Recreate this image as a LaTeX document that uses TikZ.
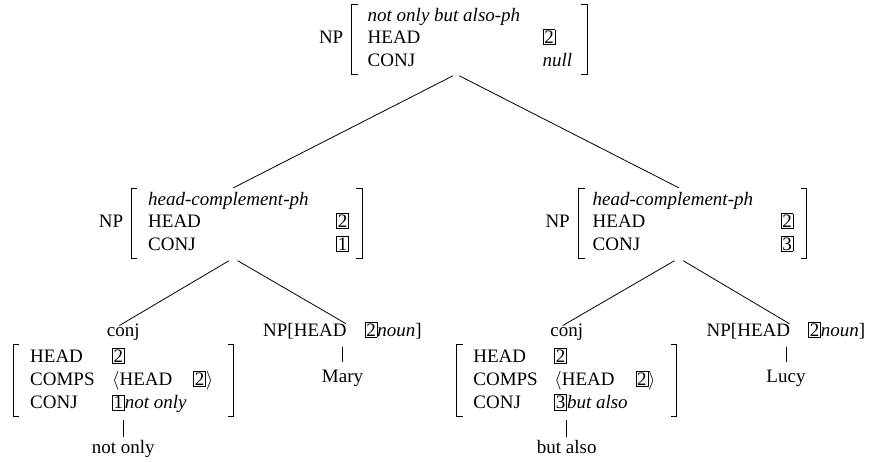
\documentclass[tikz,border=0pt]{standalone}
\usepackage{fix-cm}
\usepackage{fontspec}
\setmainfont{Liberation Serif}
\usetikzlibrary{fit}
\newcommand{\tg}[1]{{\setlength{\fboxsep}{0.9pt}\setlength{\fboxrule}{0.65pt}\fbox{#1}}}
\newcommand{\fsa}{\fontsize{19}{22.5}\selectfont}
\newcommand{\fsb}{\fontsize{19}{23.3}\selectfont}
\newcommand{\avmtab}[3]{\begin{tabular}[t]{@{\hspace{#1}}l@{}l@{\hspace{#2}}}#3\end{tabular}}
\newcommand{\brk}[1]{%
  \draw[br] ([xshift=6pt]#1.north west) -- (#1.north west) -- (#1.south west) -- ([xshift=6pt]#1.south west);
  \draw[br] ([xshift=-6pt]#1.north east) -- (#1.north east) -- (#1.south east) -- ([xshift=-6pt]#1.south east);}
\begin{document}
\begin{tikzpicture}[x=1pt,y=-1pt,
  lbl/.style={font=\fsa, inner sep=0pt},
  avmn/.style={font=\fsa, inner xsep=0pt, inner ysep=1pt, anchor=base west},
  avmb/.style={font=\fsb, inner xsep=0pt, inner ysep=1pt, anchor=base west},
  word/.style={font=\fsa, inner sep=0pt},
  br/.style={line width=0.9pt},
  edge/.style={line width=0.8pt}]
\useasboundingbox (0,0) rectangle (871,461);

% top
\node[avmn] (avm0) at (351.5,21) {\avmtab{16pt}{15pt}{%
  \multicolumn{2}{@{\hspace{16pt}}l@{}}{\textit{not only but also-ph}}\\
  \makebox[175pt][l]{HEAD} & \tg{2}\\
  \makebox[175pt][l]{CONJ} & \textit{null}}};
\node[lbl, anchor=base east] (np0) at (343.5,43.5) {NP};
\brk{avm0}
\coordinate (e0) at ([xshift=6pt]avm0.east);
\node[fit=(np0)(avm0)(e0), inner sep=0pt] (T0) {};

% middle left
\node[avmn] (avm1) at (131,205) {\avmtab{17pt}{13pt}{%
  \multicolumn{2}{@{\hspace{17pt}}l@{}}{\textit{head-complement-ph}}\\
  \makebox[188pt][l]{HEAD} & \tg{2}\\
  \makebox[188pt][l]{CONJ} & \tg{1}}};
\node[lbl, anchor=base east] (np1) at (123.3,227.5) {NP};
\brk{avm1}
\coordinate (e1) at ([xshift=6pt]avm1.east);
\node[fit=(np1)(avm1)(e1), inner sep=0pt] (T1) {};

% middle right
\node[avmn] (avm2) at (578.5,205) {\avmtab{14pt}{13pt}{%
  \multicolumn{2}{@{\hspace{14pt}}l@{}}{\textit{head-complement-ph}}\\
  \makebox[188pt][l]{HEAD} & \tg{2}\\
  \makebox[188pt][l]{CONJ} & \tg{3}}};
\node[lbl, anchor=base east] (np2) at (570,227.5) {NP};
\brk{avm2}
\coordinate (e2) at ([xshift=6pt]avm2.east);
\node[fit=(np2)(avm2)(e2), inner sep=0pt] (T2) {};

% bottom left
\node[avmb] (bla) at (13,362) {\avmtab{17pt}{20pt}{%
  \makebox[82pt][l]{HEAD} & \tg{2}\\
  \makebox[82pt][l]{COMPS} & $\langle$HEAD\hspace{21pt}\tg{2}$\rangle$\\
  \makebox[82pt][l]{CONJ} & \tg{1}\textit{not only}}};
\brk{bla}
\node[word, anchor=base] (blc) at ([yshift=26pt]bla.base) {conj};
\node[word, anchor=base] (nol) at ([yshift=-91pt]bla.base) {not only};
\node[word, anchor=base west] (bln) at (263,336) {NP[HEAD\hspace{18.3pt}\tg{2}\textit{noun}]};
\node[word, anchor=base] (mary) at ([yshift=-46pt]bln.base) {Mary};

% bottom right
\node[avmb] (bra) at (456.7,362) {\avmtab{16.5pt}{21pt}{%
  \makebox[81pt][l]{HEAD} & \tg{2}\\
  \makebox[81pt][l]{COMPS} & $\langle$HEAD\hspace{21pt}\tg{2}$\rangle$\\
  \makebox[81pt][l]{CONJ} & \tg{3}\textit{but also}}};
\brk{bra}
\node[word, anchor=base] (brc) at ([yshift=26pt]bra.base) {conj};
\node[word, anchor=base] (bua) at ([yshift=-91pt]bra.base) {but also};
\node[word, anchor=base west] (brn) at (706.5,336) {NP[HEAD\hspace{18.3pt}\tg{2}\textit{noun}]};
\node[word, anchor=base] (lucy) at ([yshift=-46pt]brn.base) {Lucy};

% connectors
\draw[edge, shorten <=3.5pt] (T0.south) -- (T1.north);
\draw[edge, shorten <=3.5pt] (T0.south) -- (T2.north);
\draw[edge, shorten <=5pt, shorten >=-4.5pt] (T1.south) -- (blc.north);
\draw[edge, shorten <=5pt, shorten >=-4pt] (T1.south) -- (bln.north);
\draw[edge, shorten <=5pt, shorten >=-4.5pt] (T2.south) -- (brc.north);
\draw[edge, shorten <=5pt, shorten >=-4pt] (T2.south) -- (brn.north);
\draw[edge, shorten <=8pt, shorten >=7.4pt] (bln.south) -- (mary.north);
\draw[edge, shorten <=8pt, shorten >=7.4pt] (brn.south) -- (lucy.north);
\draw[edge, shorten <=3.4pt, shorten >=3pt] (bla.south) -- (nol.north);
\draw[edge, shorten <=3.4pt, shorten >=3pt] (bra.south) -- (bua.north);
\end{tikzpicture}
\end{document}
